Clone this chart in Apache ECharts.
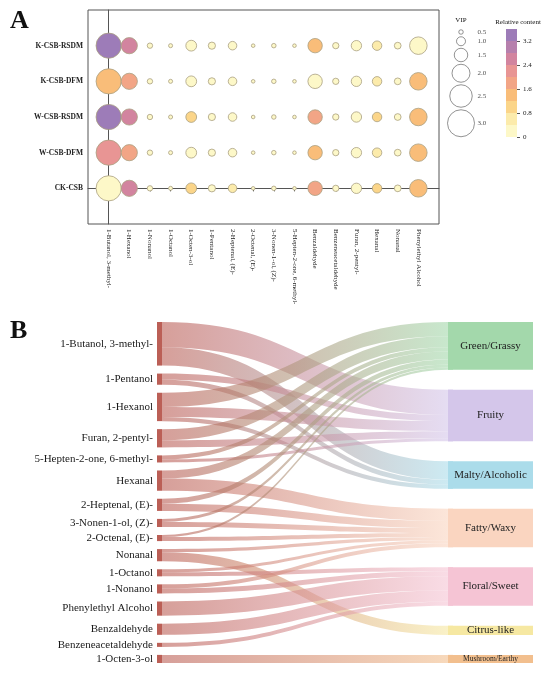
<!DOCTYPE html>
<html>
<head>
<meta charset="utf-8">
<script src="https://cdn.jsdelivr.net/npm/echarts@6/dist/echarts.min.js"></script>
<style>
  html, body { margin: 0; padding: 0; background: #fff; }
  #main { width: 550px; height: 675px; }
</style>
</head>
<body>
<div id="main"></div>
<script>
// ---------- panel A : VIP bubble chart ----------
var compounds = ['1-Butanol, 3-methyl-', '1-Hexanol', '1-Nonanol', '1-Octanol', '1-Octen-3-ol', '1-Pentanol',
  '2-Heptenal, (E)-', '2-Octenal, (E)-', '3-Nonen-1-ol, (Z)-', '5-Hepten-2-one, 6-methyl-', 'Benzaldehyde',
  'Benzeneacetaldehyde', 'Furan, 2-pentyl-', 'Hexanal', 'Nonanal', 'Phenylethyl Alcohol'];
// bottom to top
var groups = ['CK-CSB', 'W-CSB-DFM', 'W-CSB-RSDM', 'K-CSB-DFM', 'K-CSB-RSDM'];
var vip = [2.8, 1.8, 0.6, 0.45, 1.2, 0.8, 0.95, 0.4, 0.5, 0.4, 1.6, 0.7, 1.15, 1.05, 0.75, 1.95];

// relative content, one array per group
var contentCK     = [0.2, 2.7, 0.1, 0.05, 0.9, 0.2, 0.4, 0.05, 0.1, 0.1, 1.7, 0.2, 0.3, 0.9, 0.2, 1.4];
var contentWDFM   = [2.2, 1.7, 0.1, 0.05, 0.3, 0.2, 0.3, 0.05, 0.1, 0.1, 1.3, 0.2, 0.3, 0.5, 0.2, 1.4];
var contentWRSDM  = [3.4, 2.6, 0.1, 0.05, 0.9, 0.2, 0.3, 0.05, 0.1, 0.1, 1.7, 0.2, 0.3, 0.9, 0.2, 1.4];
var contentKDFM   = [1.4, 1.7, 0.1, 0.05, 0.3, 0.2, 0.3, 0.05, 0.1, 0.2, 0.3, 0.2, 0.3, 0.5, 0.2, 1.4];
var contentKRSDM  = [3.4, 2.6, 0.1, 0.05, 0.3, 0.2, 0.3, 0.05, 0.1, 0.1, 1.3, 0.2, 0.3, 0.5, 0.2, 0.3];

var vipLegend = [0.5, 1.0, 1.5, 2.0, 2.5, 3.0];
var contentBreaks = [0, 0.4, 0.8, 1.2, 1.6, 2.0, 2.4, 2.8, 3.2, 3.6];
var contentTicks = [0, 0.8, 1.6, 2.4, 3.2];

// ---------- panel B : sankey ----------
var aromaCompounds = ['1-Butanol, 3-methyl-', '1-Pentanol', '1-Hexanol', 'Furan, 2-pentyl-',
  '5-Hepten-2-one, 6-methyl-', 'Hexanal', '2-Heptenal, (E)-', '3-Nonen-1-ol, (Z)-', '2-Octenal, (E)-',
  'Nonanal', '1-Octanol', '1-Nonanol', 'Phenylethyl Alcohol', 'Benzaldehyde', 'Benzeneacetaldehyde', '1-Octen-3-ol'];
var aromaTypes = ['Green/Grassy', 'Fruity', 'Malty/Alcoholic', 'Fatty/Waxy', 'Floral/Sweet', 'Citrus-like', 'Mushroom/Earthy'];

var linkSource = ['1-Butanol, 3-methyl-', '1-Butanol, 3-methyl-', '1-Pentanol', '1-Pentanol',
  '1-Hexanol', '1-Hexanol', '1-Hexanol', 'Furan, 2-pentyl-', 'Furan, 2-pentyl-',
  '5-Hepten-2-one, 6-methyl-', '5-Hepten-2-one, 6-methyl-', 'Hexanal', 'Hexanal',
  '2-Heptenal, (E)-', '2-Heptenal, (E)-', '3-Nonen-1-ol, (Z)-', '3-Nonen-1-ol, (Z)-',
  '2-Octenal, (E)-', '2-Octenal, (E)-', 'Nonanal', 'Nonanal', '1-Octanol', '1-Octanol',
  '1-Nonanol', '1-Nonanol', 'Phenylethyl Alcohol', 'Benzaldehyde', 'Benzeneacetaldehyde', '1-Octen-3-ol'];
var linkTarget = ['Fruity', 'Malty/Alcoholic', 'Fruity', 'Malty/Alcoholic',
  'Green/Grassy', 'Fruity', 'Malty/Alcoholic', 'Green/Grassy', 'Fruity',
  'Green/Grassy', 'Fruity', 'Green/Grassy', 'Fatty/Waxy',
  'Green/Grassy', 'Fatty/Waxy', 'Green/Grassy', 'Fatty/Waxy',
  'Green/Grassy', 'Fatty/Waxy', 'Fatty/Waxy', 'Citrus-like', 'Fatty/Waxy', 'Floral/Sweet',
  'Fatty/Waxy', 'Floral/Sweet', 'Floral/Sweet', 'Floral/Sweet', 'Floral/Sweet', 'Mushroom/Earthy'];
var linkValue = [25, 18, 6, 5,
  14, 10, 4, 11, 7,
  4, 3, 8, 12,
  5, 7, 3, 5,
  2, 4, 3, 9, 3, 4,
  4, 5, 14, 11, 4, 8];

// ---------- styles ----------
var serif = 'Liberation Serif';
var contentColors = ['#fdf8c8', '#fcebab', '#fbd589', '#f9bd79', '#f2a586', '#e89594', '#d2849f', '#b680ad', '#9d7cb8'];
var typeColors = ['#a3d8ab', '#d4c6ea', '#abdcea', '#fad5c0', '#f5c4d4', '#f6e8a2', '#f2bf8e'];
var typeFontSizes = [11, 11, 11, 11, 11, 11, 7.5];
var SK = { left: 157, top: 322, width: 296, height: 341, boxWidth: 85 };

var chart = echarts.init(document.getElementById('main'));

var contentRows = [contentCK, contentWDFM, contentWRSDM, contentKDFM, contentKRSDM];
var bubbleData = [];
contentRows.forEach(function (row, gi) {
  row.forEach(function (c, ci) {
    bubbleData.push([ci, gi, vip[ci], c]);
  });
});

// stack the VIP legend circles one under another
var legendY = [];
var yy = 6;
vipLegend.forEach(function (v, i) {
  if (i > 0) yy += (vipLegend[i - 1] + v) * 4.5 + 2.5;
  legendY.push(yy);
});

var sankeyNodes = aromaCompounds.map(function (n) { return { name: n }; })
  .concat(aromaTypes.map(function (n, i) { return { name: n, itemStyle: { color: typeColors[i] } }; }));
var sankeyLinks = linkSource.map(function (s, i) {
  return { source: s, target: linkTarget[i], value: linkValue[i] };
});

var series = [
  {
    type: 'scatter',
    xAxisIndex: 0, yAxisIndex: 0,
    data: bubbleData,
    symbolSize: function (val) { return val[2] * 9; },
    itemStyle: { borderColor: '#a99f80', borderWidth: 0.8, opacity: 1 },
    silent: true
  },
  {
    type: 'scatter',
    xAxisIndex: 1, yAxisIndex: 1,
    data: vipLegend.map(function (v, i) { return [21, legendY[i], v]; }),
    symbolSize: function (val) { return val[2] * 9; },
    itemStyle: { color: '#fff', borderColor: '#555', borderWidth: 0.8 },
    silent: true
  },
  {
    type: 'scatter',
    xAxisIndex: 1, yAxisIndex: 1,
    data: vipLegend.map(function (v, i) { return [35, legendY[i], v]; }),
    symbolSize: 1,
    itemStyle: { color: 'transparent' },
    label: {
      show: true, position: 'right', distance: 2,
      formatter: function (p) { return p.value[2].toFixed(1); },
      fontFamily: serif, fontSize: 7, color: '#222'
    },
    silent: true
  }
];

contentColors.forEach(function (c, i) {
  series.push({
    type: 'bar',
    xAxisIndex: 2, yAxisIndex: 2,
    stack: 'bar',
    barWidth: '100%',
    data: [contentBreaks[i + 1] - contentBreaks[i]],
    itemStyle: { color: c },
    silent: true
  });
});

series.push({
  id: 'aroma',
  type: 'sankey',
  left: SK.left, top: SK.top, width: SK.width, height: SK.height,
  nodeWidth: 5,
  nodeGap: 8,
  layoutIterations: 0,
  draggable: false,
  emphasis: { disabled: true },
  data: sankeyNodes,
  links: sankeyLinks,
  lineStyle: { color: 'gradient', opacity: 0.6, curveness: 0.5 },
  label: { fontFamily: serif, fontSize: 11, color: '#1a1a1a' },
  levels: [
    { depth: 0, itemStyle: { color: '#bb5f56' }, label: { position: 'left', distance: 4 } },
    { depth: 1, label: { show: false } }
  ]
});

var titles = [
  { id: 'tA', type: 'text', left: 10, top: 8, style: { text: 'A', font: 'bold 26px "Liberation Serif"', fill: '#111' } },
  { id: 'tB', type: 'text', left: 10, top: 318, style: { text: 'B', font: 'bold 26px "Liberation Serif"', fill: '#111' } },
  { id: 'tVIP', type: 'text', x: 461, y: 20, style: { text: 'VIP', font: '7px "Liberation Serif"', fill: '#111', align: 'center', verticalAlign: 'middle' } },
  { id: 'tRC', type: 'text', x: 518, y: 22, style: { text: 'Relative content', font: '7px "Liberation Serif"', fill: '#111', align: 'center', verticalAlign: 'middle' } }
];

var option = {
  backgroundColor: '#fff',
  animation: false,
  grid: [
    { left: 88, top: 10, width: 351, height: 214, show: true, borderColor: '#555', borderWidth: 1 },
    { left: 440, top: 26, width: 40, height: 120 },
    { left: 506, top: 29, width: 11, height: 108 }
  ],
  xAxis: [
    {
      type: 'value', gridIndex: 0, min: -1, max: 16,
      splitLine: { show: false },
      axisLine: { lineStyle: { color: '#555' } },
      axisTick: { show: true, length: 3, customValues: compounds.map(function (c, i) { return i; }), lineStyle: { color: '#444' } },
      axisLabel: {
        customValues: compounds.map(function (c, i) { return i; }),
        formatter: function (v) { return compounds[Math.round(v)] || ''; },
        rotate: -90, margin: 5,
        fontFamily: serif, fontSize: 7, color: '#222'
      }
    },
    { type: 'value', gridIndex: 1, min: 0, max: 40, show: false },
    { type: 'category', gridIndex: 2, data: ['c'], show: false }
  ],
  yAxis: [
    {
      type: 'value', gridIndex: 0, min: -1, max: 5,
      splitLine: { show: false },
      axisLine: { lineStyle: { color: '#555' } },
      axisTick: { show: true, length: 3, customValues: groups.map(function (g, i) { return i; }), lineStyle: { color: '#444' } },
      axisLabel: {
        customValues: groups.map(function (g, i) { return i; }),
        formatter: function (v) { return groups[Math.round(v)] || ''; },
        margin: 5,
        fontFamily: serif, fontSize: 7.5, fontWeight: 'bold', color: '#222'
      }
    },
    { type: 'value', gridIndex: 1, min: 0, max: 120, inverse: true, show: false },
    {
      type: 'value', gridIndex: 2, min: 0, max: 3.6, position: 'right',
      splitLine: { show: false },
      axisLine: { show: false },
      axisTick: { show: true, length: 3, customValues: contentTicks, lineStyle: { color: '#555' } },
      axisLabel: {
        customValues: contentTicks,
        formatter: function (v) { return v === 0 ? '0' : v.toFixed(1); },
        margin: 6,
        fontFamily: serif, fontSize: 7, color: '#222'
      }
    }
  ],
  visualMap: {
    type: 'piecewise', show: false, seriesIndex: 0, dimension: 3,
    pieces: contentColors.map(function (c, i) {
      return i === contentColors.length - 1 ? { gte: contentBreaks[i], color: c }
        : { gte: contentBreaks[i], lt: contentBreaks[i + 1], color: c };
    })
  },
  graphic: titles,
  series: series
};

chart.setOption(option);

// spread the aroma type nodes over the full height and draw their wide boxes
var sankeyIdx = series.length - 1;
var nodeData = chart.getModel().getSeriesByIndex(sankeyIdx).getData();
var n0 = aromaCompounds.length;
var typeLayouts = aromaTypes.map(function (t, i) { return nodeData.getItemLayout(n0 + i); });
var totalDy = typeLayouts.reduce(function (s, l) { return s + l.dy; }, 0);
var typeGap = (SK.height - totalDy) / (aromaTypes.length - 1);
var acc = 0;
var typeY = typeLayouts.map(function (l) { var v = acc; acc += l.dy + typeGap; return v; });

var newNodes = sankeyNodes.map(function (nd, i) {
  if (i < n0) return nd;
  return { name: nd.name, itemStyle: nd.itemStyle, localY: typeY[i - n0] / SK.height };
});

var boxes = aromaTypes.map(function (t, i) {
  var l = typeLayouts[i];
  return {
    id: 'box' + i,
    type: 'group',
    x: SK.left + l.x,
    y: SK.top + typeY[i],
    z: 100,
    children: [
      { type: 'rect', shape: { x: 0, y: 0, width: SK.boxWidth, height: l.dy }, style: { fill: typeColors[i] } },
      {
        type: 'text', x: SK.boxWidth / 2, y: l.dy / 2,
        style: { text: t, font: typeFontSizes[i] + 'px "Liberation Serif"', fill: '#222', align: 'center', verticalAlign: 'middle' }
      }
    ]
  };
});

chart.setOption({
  series: [{ id: 'aroma', data: newNodes }],
  graphic: titles.concat(boxes)
}, { replaceMerge: ['graphic'] });
</script>
</body>
</html>
